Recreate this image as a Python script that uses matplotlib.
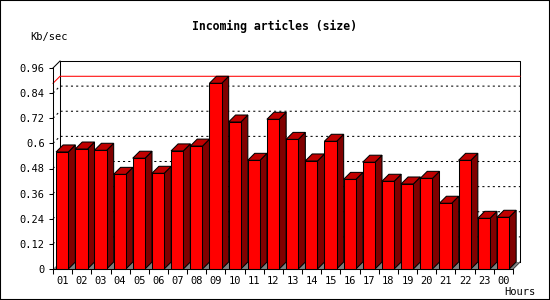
import numpy as np
import matplotlib
matplotlib.use('Agg')
import matplotlib.pyplot as plt
from matplotlib.patches import Polygon, Rectangle

plt.rcParams['font.family'] = ['DejaVu Sans Mono']

hours = ['01', '02', '03', '04', '05', '06', '07', '08', '09', '10', '11', '12',
         '13', '14', '15', '16', '17', '18', '19', '20', '21', '22', '23', '00']
kb_sec = [0.559, 0.573, 0.567, 0.452, 0.529, 0.457, 0.564, 0.587, 0.887, 0.702, 0.519, 0.715,
          0.619, 0.516, 0.610, 0.428, 0.510, 0.419, 0.406, 0.433, 0.314, 0.519, 0.242, 0.247]
y_ticks = [0, 0.12, 0.24, 0.36, 0.48, 0.6, 0.72, 0.84, 0.96]
y_labels = ['0', '0.12', '0.24', '0.36', '0.48', '0.6', '0.72', '0.84', '0.96']

fig = plt.figure(figsize=(5.5, 3.0), dpi=100)
ax = fig.add_axes([53 / 550, 1 - 269 / 300, 460 / 550, 201 / 300])
n = len(hours)
ax.set_xlim(0, n)
ax.set_ylim(0, y_ticks[-1])
ax.patch.set_visible(False)
for s in ['top', 'right']:
    ax.spines[s].set_visible(False)
for s in ['left', 'bottom']:
    ax.spines[s].set_linewidth(0.75)
    ax.spines[s].set_zorder(5)

# 3D depth: 7 pixels back and up, in data units
bb = ax.get_window_extent()
dx = 7 * n / bb.width
dy = 7 * y_ticks[-1] / bb.height
top = y_ticks[-1]

lw = 0.75
# back wall frame
ax.plot([dx, dx, n + dx, n + dx], [dy, top + dy, top + dy, dy], color='black', lw=lw, clip_on=False, zorder=1)
ax.plot([0, dx], [top, top + dy], color='black', lw=lw, clip_on=False, zorder=1)
ax.plot([n, n + dx], [0, dy], color='black', lw=lw, clip_on=False, zorder=1)

# dotted grid on the back wall
for v in y_ticks[1:-1]:
    ax.plot([0, dx, n + dx], [v, v + dy, v + dy], color='black', lw=lw,
            linestyle=(0, (2, 3)), clip_on=False, zorder=1)

# max line
vmax = max(kb_sec)
ax.plot([0, dx, n + dx], [vmax, vmax + dy, vmax + dy], color='red', lw=lw, clip_on=False, zorder=1)

# floor
ax.add_patch(Polygon([(0, 0), (n, 0), (n + dx, dy), (dx, dy)], closed=True,
                     facecolor='#808080', edgecolor='none', clip_on=False, zorder=2))

# bars
w = 0.64
for i, v in enumerate(kb_sec):
    x0 = i + 0.16
    x1 = x0 + w
    ax.add_patch(Polygon([(x1, 0), (x1 + dx, dy), (x1 + dx, v + dy), (x1, v)], closed=True,
                         facecolor='#800000', edgecolor='black', lw=lw, clip_on=False, zorder=3))
    ax.add_patch(Polygon([(x0, v), (x1, v), (x1 + dx, v + dy), (x0 + dx, v + dy)], closed=True,
                         facecolor='#c00000', edgecolor='black', lw=lw, clip_on=False, zorder=3))
    ax.add_patch(Rectangle((x0, 0), w, v, facecolor='#ff0000', edgecolor='black',
                           lw=lw, clip_on=False, zorder=3))

ax.set_yticks(y_ticks, y_labels)
ax.tick_params(axis='y', length=3, width=lw, pad=3, labelsize=7.5)
ax.set_xticks(np.arange(n) + 0.5, hours)
ax.set_xticks(np.arange(n + 1), minor=True)
ax.tick_params(axis='x', which='major', length=0, pad=5, labelsize=7.5)
ax.tick_params(axis='x', which='minor', length=3.5, width=lw)

fig.text(274 / 550, 1 - 26.5 / 300, 'Incoming articles (size)', ha='center', va='center',
         fontsize=8.3, fontweight='bold')
fig.text(30 / 550, 1 - 36.7 / 300, 'Kb/sec', ha='left', va='center', fontsize=7.5)
fig.text(504 / 550, 1 - 292 / 300, 'Hours', ha='left', va='center', fontsize=7.5)

fig.add_artist(Rectangle((0, 0), 1, 1, transform=fig.transFigure, fill=False,
                         edgecolor='black', lw=1.5))

fig.savefig('out.png', dpi=100)
